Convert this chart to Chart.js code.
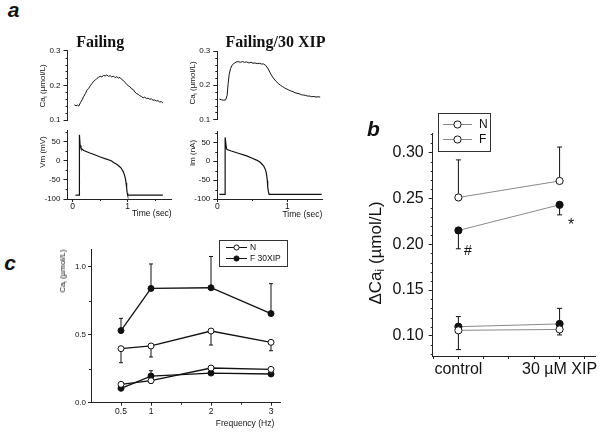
<!DOCTYPE html>
<html><head><meta charset="utf-8">
<script src="https://cdn.jsdelivr.net/npm/chart.js@4.4.1/dist/chart.umd.min.js"></script>
<style>
html,body{margin:0;padding:0;background:#fff;}
#fig{position:relative;width:600px;height:434px;overflow:hidden;background:#fff;color:#111;}
canvas{position:absolute;}
.lbl{position:absolute;white-space:nowrap;transform-origin:center center;}
.lbl sub{font-size:0.7em;vertical-align:-0.3em;line-height:0;}
</style></head><body><div id="fig"></div>
<script>
// ---------------- Panel a : Failing ----------------
const TIME_CA_FAIL = [0.03,0.06,0.09,0.11,0.14,0.17,0.20,0.23,0.26,0.29,0.32,0.35,0.38,0.41,0.44,0.47,0.50,0.53,0.56,0.59,0.62,0.65,0.68,0.71,0.74,0.77,0.80,0.83,0.86,0.89,0.92,0.95,0.98,1.01,1.04,1.07,1.10,1.13,1.16,1.19,1.22,1.25,1.28,1.31,1.34,1.37,1.40,1.43,1.46,1.49,1.52,1.55,1.58,1.61,1.64];
const CA_FAIL = [0.144,0.141,0.143,0.140,0.150,0.158,0.168,0.176,0.186,0.191,0.199,0.205,0.212,0.215,0.220,0.223,0.226,0.224,0.229,0.227,0.230,0.226,0.228,0.224,0.227,0.222,0.225,0.221,0.223,0.217,0.214,0.209,0.203,0.199,0.196,0.190,0.188,0.181,0.176,0.174,0.170,0.168,0.164,0.166,0.162,0.163,0.160,0.161,0.157,0.158,0.155,0.156,0.152,0.153,0.149];
const TIME_VM_FAIL = [0.05,0.12,0.122,0.135,0.15,0.20,0.30,0.40,0.50,0.60,0.70,0.75,0.80,0.85,0.88,0.90,0.92,0.94,0.96,0.97,0.98,0.99,1.00,1.64];
const VM_FAIL = [-90,-90,68,40,33,27,21,15.7,10,5,0,-5,-9,-15,-19,-24,-29,-37,-48,-58,-70,-84,-90,-90];
// ---------------- Panel a : Failing/30 XIP ----------------
const TIME_CA_XIP = [0.03,0.06,0.09,0.12,0.14,0.155,0.17,0.19,0.21,0.24,0.27,0.30,0.33,0.36,0.39,0.42,0.45,0.48,0.51,0.54,0.57,0.60,0.63,0.66,0.69,0.72,0.75,0.78,0.81,0.84,0.87,0.90,0.93,0.96,0.99,1.02,1.05,1.08,1.11,1.14,1.17,1.20,1.23,1.26,1.29,1.32,1.35,1.38,1.41,1.44,1.47];
const CA_XIP = [0.159,0.157,0.156,0.157,0.170,0.205,0.232,0.249,0.258,0.264,0.268,0.269,0.267,0.269,0.267,0.268,0.265,0.267,0.264,0.265,0.263,0.264,0.262,0.262,0.258,0.250,0.238,0.227,0.218,0.211,0.205,0.200,0.196,0.192,0.189,0.186,0.183,0.181,0.178,0.176,0.175,0.172,0.171,0.170,0.168,0.168,0.166,0.167,0.165,0.166,0.165];
const TIME_IM_XIP = [0.03,0.11,0.112,0.13,0.14,0.20,0.30,0.42,0.50,0.56,0.60,0.63,0.66,0.68,0.695,0.705,0.715,0.72,0.73,0.74,1.49];
const IM_XIP = [-88,-88,63,35,31,27,21,14,8,3,-1,-6,-12,-19,-27,-37,-52,-68,-80,-88,-88];
const CA_TICKS = [0.1,0.2,0.3];
const CA_MINOR = [0.12,0.14,0.16,0.18,0.22,0.24,0.26,0.28];
const VM_TICKS = [-100,-50,0,50];
const VM_MINOR = [-75,-25,25,75];
const TIME_TICKS = [0,1];
const TIME_MINOR_FAIL = [0.5,1.5];
const TIME_MINOR_XIP = [0.5];

// ---------------- Panel b ----------------
const B_CATEGORIES = ['control','30 \u00b5M XIP'];
const B_X = [0,1];
const B_N_UPPER = [0.251,0.269];
const B_N_UPPER_ERR = [0.292,0.306];
const B_F_UPPER = [0.215,0.243];
const B_F_UPPER_ERR = [0.195,0.232];
const B_F_LOWER = [0.110,0.113];
const B_F_LOWER_ERR = [0.121,0.130];
const B_N_LOWER = [0.106,0.107];
const B_N_LOWER_ERR = [0.085,0.101];
const B_LEGEND = ['N','F'];
const B_Y_TICKS = [0.10,0.15,0.20,0.25,0.30];
const B_Y_MINOR = [0.08,0.09,0.11,0.12,0.13,0.14,0.16,0.17,0.18,0.19,0.21,0.22,0.23,0.24,0.26,0.27,0.28,0.29,0.31,0.32];
const B_X_TICKS = [-0.25,0,0.25,0.5,0.75,1,1.25];

// ---------------- Panel c ----------------
const C_FREQ = [0.5,1,2,3];
const C_F_UPPER = [0.530,0.840,0.845,0.655];
const C_F_UPPER_ERR = [0.620,1.020,1.075,0.875];
const C_N_UPPER = [0.397,0.417,0.527,0.444];
const C_N_UPPER_ERR = [0.294,0.336,0.424,0.382];
const C_N_LOWER = [0.135,0.162,0.255,0.245];
const C_N_LOWER_ERR = [null,0.143,null,null];
const C_F_LOWER = [0.106,0.196,0.218,0.211];
const C_F_LOWER_ERR = [null,0.235,null,null];
const C_LEGEND = ['N','F 30XIP'];
const C_Y_TICKS = [0,0.5,1.0];
const C_Y_MINOR = [0.25,0.75];
const C_X_TICKS = [0.5,1,2,3];
const C_X_MINOR = [1.5,2.5];

// ---------------- helpers ----------------
const FAM = '"Liberation Sans", Arial, sans-serif';
const INK = '#111';
const fig = document.getElementById('fig');
const pts = (xs, ys) => xs.map((x, i) => ({x, y: ys[i]}));

const errorBars = {
  id: 'errorBars',
  beforeDatasetsDraw(chart) {
    const ctx = chart.ctx, ys = chart.scales.y;
    chart.data.datasets.forEach((ds, di) => {
      if (!ds.errTo) return;
      const meta = chart.getDatasetMeta(di);
      ctx.save(); ctx.strokeStyle = INK; ctx.lineWidth = 1;
      ds.errTo.forEach((e, i) => {
        if (e == null) return;
        const p = meta.data[i], ye = ys.getPixelForValue(e);
        ctx.beginPath(); ctx.moveTo(p.x, p.y); ctx.lineTo(p.x, ye);
        ctx.moveTo(p.x - ds.capW, ye); ctx.lineTo(p.x + ds.capW, ye); ctx.stroke();
      });
      ctx.restore();
    });
  }
};
const minorTicks = {
  id: 'minorTicks',
  afterDraw(chart, args, o) {
    if (!o || !o.len) return;
    const ctx = chart.ctx, a = chart.chartArea;
    ctx.save(); ctx.strokeStyle = '#222'; ctx.lineWidth = 1;
    (o.y || []).forEach(v => { const y = Math.round(chart.scales.y.getPixelForValue(v)) + 0.5;
      ctx.beginPath(); ctx.moveTo(a.left - o.len, y); ctx.lineTo(a.left, y); ctx.stroke(); });
    (o.x || []).forEach(v => { const x = Math.round(chart.scales.x.getPixelForValue(v)) + 0.5;
      ctx.beginPath(); ctx.moveTo(x, a.bottom); ctx.lineTo(x, a.bottom + o.len); ctx.stroke(); });
    ctx.restore();
  }
};
const boxLegend = {
  id: 'boxLegend',
  afterDraw(chart, args, o) {
    if (!o || !o.items) return;
    const ctx = chart.ctx;
    ctx.save();
    ctx.strokeStyle = '#333'; ctx.lineWidth = 1;
    ctx.strokeRect(Math.round(o.x) + 0.5, Math.round(o.y) + 0.5, o.w, o.h);
    o.items.forEach((it, i) => {
      const y = Math.round(o.y + o.firstY + i * o.gap) + 0.5;
      ctx.strokeStyle = it.lineColor; ctx.lineWidth = 1;
      ctx.beginPath(); ctx.moveTo(o.x + o.lineX0, y); ctx.lineTo(o.x + o.lineX1, y); ctx.stroke();
      const cx = o.x + (o.lineX0 + o.lineX1) / 2;
      ctx.beginPath(); ctx.arc(cx, y, o.r, 0, Math.PI * 2);
      ctx.fillStyle = it.fill; ctx.fill(); ctx.strokeStyle = INK; ctx.stroke();
      ctx.fillStyle = INK; ctx.font = o.font; ctx.textBaseline = 'middle'; ctx.textAlign = 'left';
      ctx.fillText(it.label, o.x + o.textX, y);
    });
    ctx.restore();
  }
};

function yAxis(o) {
  return {
    type: 'linear', position: 'left', min: o.min, max: o.max,
    afterFit(s) { s.width = o.width; },
    afterBuildTicks(s) { s.ticks = o.ticks.map(v => ({value: v})); },
    ticks: {callback: o.fmt, font: {family: FAM, size: o.size}, color: INK, padding: o.pad ?? 3, autoSkip: false},
    grid: {drawOnChartArea: false, drawTicks: true, tickLength: o.tickLen ?? 4, color: '#222', lineWidth: 1},
    border: {display: true, color: '#222', width: 1}
  };
}
function xAxis(o) {
  if (o.hidden) return {type: 'linear', min: o.min, max: o.max, display: false};
  return {
    type: 'linear', position: 'bottom', min: o.min, max: o.max,
    afterFit(s) { s.height = o.height; },
    afterBuildTicks(s) { s.ticks = o.ticks.map(v => ({value: v})); },
    ticks: {callback: o.fmt, font: {family: FAM, size: o.size}, color: INK, padding: o.pad ?? 0, autoSkip: false, maxRotation: 0, minRotation: 0},
    grid: {drawOnChartArea: false, drawTicks: true, tickLength: o.tickLen ?? 3, color: '#222', lineWidth: 1},
    border: {display: true, color: '#222', width: 1},
    title: o.title ? {display: true, text: o.title, align: 'end', font: {family: FAM, size: o.size}, color: INK, padding: {top: 0, bottom: 0}} : {display: false}
  };
}
function makeChart(box, datasets, scales, padding, pluginOpts) {
  const c = document.createElement('canvas');
  c.width = box.w; c.height = box.h;
  c.style.left = box.left + 'px'; c.style.top = box.top + 'px';
  c.style.width = box.w + 'px'; c.style.height = box.h + 'px';
  fig.appendChild(c);
  return new Chart(c, {
    type: 'line',
    data: {datasets},
    options: {
      responsive: false, animation: false, devicePixelRatio: 1,
      layout: {padding},
      scales,
      plugins: Object.assign({legend: {display: false}, tooltip: {enabled: false}}, pluginOpts || {})
    },
    plugins: [errorBars, minorTicks, boxLegend]
  });
}
function trace(xs, ys, w) {
  return {data: pts(xs, ys), borderColor: INK, borderWidth: w, pointRadius: 0, tension: 0, fill: false};
}
function label(html, cx, cy, font, rot) {
  const d = document.createElement('div');
  d.className = 'lbl'; d.innerHTML = html; d.style.font = font;
  d.style.left = cx + 'px'; d.style.top = cy + 'px';
  d.style.transform = 'translate(-50%,-50%) rotate(' + (rot || 0) + 'deg)';
  fig.appendChild(d);
}
const f1 = v => v.toFixed(1), f0 = v => String(v), f2 = v => v.toFixed(2);

// ---------------- Panel a charts ----------------
makeChart({left: 20, top: 42, w: 162, h: 86},
  [trace(TIME_CA_FAIL, CA_FAIL, 1)],
  {x: xAxis({hidden: true, min: -0.095, max: 1.8}),
   y: yAxis({min: 0.1, max: 0.3, ticks: CA_TICKS, fmt: f1, width: 47.5, size: 8})},
  {top: 8.7, bottom: 8, left: 0, right: 10.3},
  {minorTicks: {len: 2, y: CA_MINOR}});

makeChart({left: 20, top: 122, w: 162, h: 97},
  [trace(TIME_VM_FAIL, VM_FAIL, 1.2)],
  {x: xAxis({min: -0.095, max: 1.8, ticks: TIME_TICKS, fmt: f0, height: 20, size: 8.5, title: 'Time (sec)'}),
   y: yAxis({min: -100, max: 80, ticks: VM_TICKS, fmt: f0, width: 47.5, size: 8})},
  {top: 8.2, bottom: 0, left: 0, right: 10.3},
  {minorTicks: {len: 2, y: VM_MINOR, x: TIME_MINOR_FAIL}});

makeChart({left: 180, top: 43, w: 153, h: 85},
  [trace(TIME_CA_XIP, CA_XIP, 1)],
  {x: xAxis({hidden: true, min: 0, max: 1.5}),
   y: yAxis({min: 0.1, max: 0.3, ticks: CA_TICKS, fmt: f1, width: 37.3, size: 8})},
  {top: 8, bottom: 8.7, left: 0, right: 10.7},
  {minorTicks: {len: 2, y: CA_MINOR}});

makeChart({left: 180, top: 123, w: 153, h: 97},
  [trace(TIME_IM_XIP, IM_XIP, 1.2)],
  {x: xAxis({min: 0, max: 1.5, ticks: TIME_TICKS, fmt: f0, height: 21, size: 8.5, title: 'Time (sec)'}),
   y: yAxis({min: -100, max: 80, ticks: VM_TICKS, fmt: f0, width: 37.3, size: 8})},
  {top: 8, bottom: 0, left: 0, right: 10.7},
  {minorTicks: {len: 2, y: VM_MINOR, x: TIME_MINOR_XIP}});

// ---------------- Panel b chart ----------------
function bSet(lbl, ys, err, filled) {
  return {label: lbl, data: pts(B_X, ys), errTo: err, capW: 2.5,
    borderColor: '#8a8a8a', borderWidth: 1, tension: 0,
    pointRadius: 3.6, pointBorderWidth: 1, pointBorderColor: INK,
    pointBackgroundColor: filled ? INK : '#fff', backgroundColor: filled ? INK : '#fff'};
}
makeChart({left: 360, top: 105, w: 240, h: 280},
  [bSet('N', B_N_UPPER, B_N_UPPER_ERR, false),
   bSet('F', B_F_UPPER, B_F_UPPER_ERR, true),
   bSet('N', B_N_LOWER, B_N_LOWER_ERR, false),
   bSet('F', B_F_LOWER, B_F_LOWER_ERR, true)],
  {x: xAxis({min: -0.254, max: 1.35, ticks: B_X_TICKS, height: 29, size: 16, pad: 1,
             fmt: v => (B_X.indexOf(v) >= 0 ? B_CATEGORIES[B_X.indexOf(v)] : '')}),
   y: yAxis({min: 0.078, max: 0.321, ticks: B_Y_TICKS, fmt: f2, width: 72.7, size: 16, pad: 5})},
  {top: 28.3, bottom: 0, left: 0, right: 1},
  {minorTicks: {len: 2, y: B_Y_MINOR},
   boxLegend: {x: 78, y: 8, w: 52, h: 38, firstY: 11, gap: 15, lineX0: 5, lineX1: 34, r: 3.6, textX: 41,
     font: '12px ' + FAM,
     items: B_LEGEND.map(l => ({label: l, fill: '#fff', lineColor: '#8a8a8a'}))}});

// ---------------- Panel c chart ----------------
function cSet(lbl, ys, err, filled) {
  return {label: lbl, data: pts(C_FREQ, ys), errTo: err, capW: 2,
    borderColor: INK, borderWidth: 1.3, tension: 0,
    pointRadius: 3, pointBorderWidth: 1, pointBorderColor: INK,
    pointBackgroundColor: filled ? INK : '#fff', backgroundColor: filled ? INK : '#fff'};
}
makeChart({left: 51, top: 236, w: 241, h: 187},
  [cSet('F 30XIP', C_F_UPPER, C_F_UPPER_ERR, true),
   cSet('N', C_N_UPPER, C_N_UPPER_ERR, false),
   cSet('N', C_N_LOWER, C_N_LOWER_ERR, false),
   cSet('F 30XIP', C_F_LOWER, C_F_LOWER_ERR, true)],
  {x: xAxis({min: 0, max: 3.15, ticks: C_X_TICKS, fmt: f0, height: 20.3, size: 8.5, pad: 1}),
   y: yAxis({min: 0, max: 1.13, ticks: C_Y_TICKS, fmt: f1, width: 40, size: 8, tickLen: 3, pad: 2})},
  {top: 13, bottom: 0, left: 0, right: 12},
  {minorTicks: {len: 2, y: C_Y_MINOR, x: C_X_MINOR},
   boxLegend: {x: 168, y: 4, w: 68, h: 26, firstY: 7, gap: 11, lineX0: 7, lineX1: 28, r: 2.6, textX: 31,
     font: '8.5px ' + FAM,
     items: C_LEGEND.map((l, i) => ({label: l, fill: i === 0 ? '#fff' : INK, lineColor: INK}))}});

// ---------------- text overlays ----------------
const SANS8 = '8px/1 ' + FAM;
label('a', 13.5, 9, 'italic bold 21px/1 ' + FAM);
label('b', 373.5, 128, 'italic bold 21px/1 ' + FAM);
label('c', 10, 261.5, 'italic bold 21px/1 ' + FAM);
label('Failing', 100.2, 41.7, 'bold 16px/1 "Liberation Serif", "Times New Roman", serif');
label('Failing/30 XIP', 275.5, 41.7, 'bold 16px/1 "Liberation Serif", "Times New Roman", serif');
label('Ca<sub>i</sub> (\u00b5mol/L)', 42.5, 86, SANS8, -90);
label('Vm (mV)', 42.5, 152, SANS8, -90);
label('Ca<sub>i</sub> (\u00b5mol/L)', 192.5, 83, SANS8, -90);
label('Im (nA)', 192.5, 153, SANS8, -90);
label('\u0394Ca<sub>i</sub> (\u00b5mol/L)', 375, 253, '17px/1 ' + FAM, -90);
label('#', 468, 250, '14px/1 ' + FAM);
label('*', 571, 225, '16px/1 ' + FAM);
label('Ca<sub>i</sub> (\u00b5mol/L)', 62.5, 271, SANS8, -90);
label('Frequency (Hz)', 245, 423, '8.5px/1 ' + FAM);
</script></body></html>
